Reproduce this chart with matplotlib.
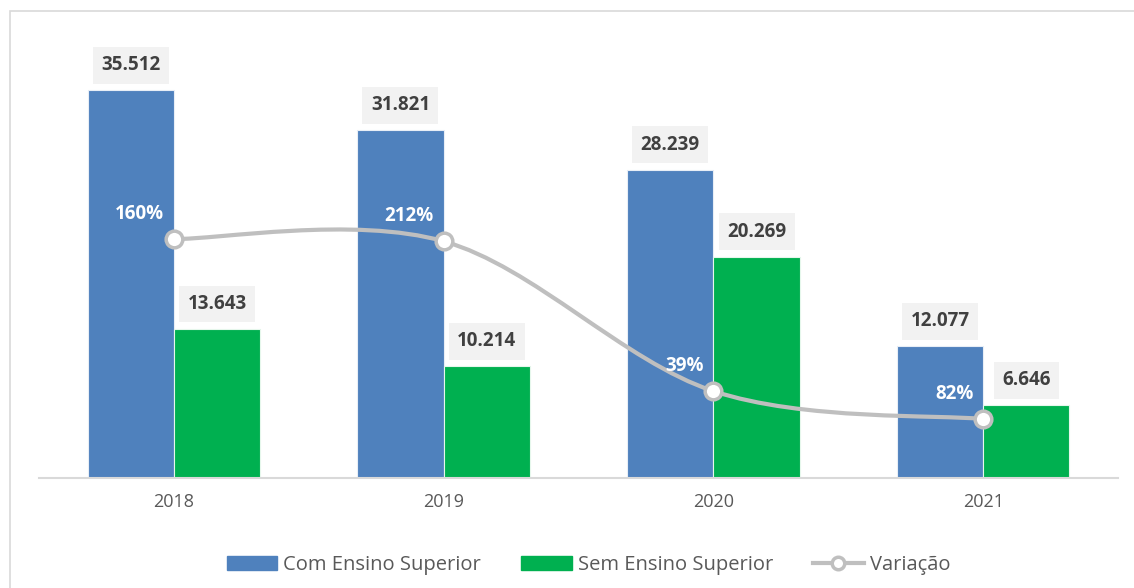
import numpy as np
import matplotlib.pyplot as plt
from matplotlib.path import Path
from matplotlib.patches import PathPatch, Rectangle, Patch
from matplotlib.lines import Line2D

plt.rcParams['font.family'] = ['Open Sans', 'DejaVu Sans']

years = ['2018', '2019', '2020', '2021']
com_ensino = [35512, 31821, 28239, 12077]
sem_ensino = [13643, 10214, 20269, 6646]
variacao_labels = ['160%', '212%', '39%', '82%']
# height of the Variação points as drawn (secondary axis, 0-100 scale)
variacao_pos = [54.7, 54.2, 19.9, 13.5]

blue = '#4F81BD'
green = '#00B050'
grey_line = '#BFBFBF'

fig = plt.figure(figsize=(11.34, 5.88), dpi=100)
ax = fig.add_axes([0.0344, 0.187, 0.9515, 0.743])

x = np.arange(len(years))
w = 0.32
ax.bar(x - w / 2, com_ensino, w, color=blue, edgecolor='#E8EEF6', lw=0.8, zorder=2)
ax.bar(x + w / 2, sem_ensino, w, color=green, edgecolor='#E6F7EC', lw=0.8, zorder=2)

ax.set_xlim(-0.5, len(years) - 0.5)
ax.set_ylim(0, 40000)
ax.set_xticks(x)
ax.set_xticklabels(years)
ax.tick_params(axis='x', length=0, pad=11, labelsize=13, labelcolor='#595959')
ax.set_yticks([])
for s in ('top', 'right', 'left'):
    ax.spines[s].set_visible(False)
ax.spines['bottom'].set_color('#D9D9D9')
ax.spines['bottom'].set_linewidth(1.5)

box = dict(boxstyle='square,pad=0.45', fc='#F2F2F2', ec='none')
for xi, v in zip(x - w / 2, com_ensino):
    ax.annotate(f'{v/1000:.3f}', (xi, v), xytext=(0, 18), textcoords='offset points',
                ha='center', va='center', fontsize=13.5, fontweight='bold',
                color='#404040', bbox=box, zorder=5)
for xi, v in zip(x + w / 2, sem_ensino):
    ax.annotate(f'{v/1000:.3f}', (xi, v), xytext=(0, 18), textcoords='offset points',
                ha='center', va='center', fontsize=13.5, fontweight='bold',
                color='#404040', bbox=box, zorder=5)

# secondary axis for the smoothed Variação line
ax2 = ax.twinx()
ax2.set_ylim(0, 100)
ax2.set_axis_off()

pts = np.column_stack([x, variacao_pos]).astype(float)
verts = [pts[0]]
codes = [Path.MOVETO]
for i in range(len(pts) - 1):
    p_prev = pts[i - 1] if i > 0 else pts[i]
    p_next = pts[i + 2] if i + 2 < len(pts) else pts[i + 1]
    c1 = pts[i] + (pts[i + 1] - p_prev) / 6
    c2 = pts[i + 1] - (p_next - pts[i]) / 6
    verts += [c1, c2, pts[i + 1]]
    codes += [Path.CURVE4] * 3
ax2.add_patch(PathPatch(Path(verts, codes), fill=False, ec=grey_line, lw=3, zorder=3))
ax2.plot(x, variacao_pos, 'o', ms=12, mfc='white', mec=grey_line, mew=2.5, zorder=4)

for xi, yi, lab in zip(x, variacao_pos, variacao_labels):
    ax2.annotate(lab, (xi, yi), xytext=(-7, 11), textcoords='offset points',
                 ha='right', va='bottom', fontsize=13.5, fontweight='bold',
                 color='white', zorder=5)

# chart area border
fig.patches.append(Rectangle((10 / 1134, -0.2), 1.2, 1.2 - 11 / 588,
                             transform=fig.transFigure, fill=False,
                             ec='#D9D9D9', lw=1.2))

handles = [Patch(color=blue), Patch(color=green),
           Line2D([], [], color=grey_line, lw=3, marker='o', ms=9,
                  mfc='white', mec=grey_line, mew=2.5)]
fig.legend(handles, ['Com Ensino Superior', 'Sem Ensino Superior', 'Variação'],
           loc='center', bbox_to_anchor=(0.519, 0.039), ncol=3, frameon=False,
           fontsize=14.5, labelcolor='#595959', handlelength=2.5, handleheight=0.7,
           handletextpad=0.3, columnspacing=2.0)

plt.savefig('out.png', dpi=100)
